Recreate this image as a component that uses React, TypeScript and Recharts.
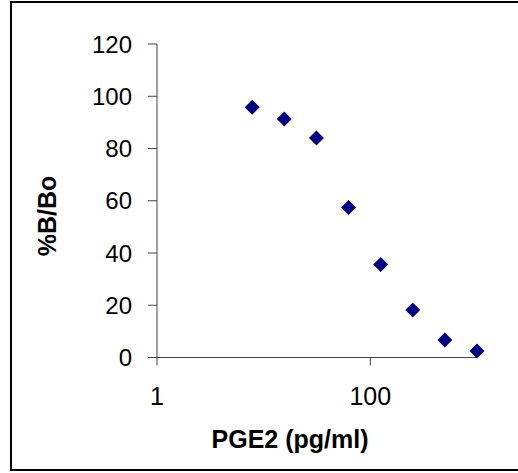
import { ScatterChart, Scatter, XAxis, YAxis } from "recharts";

// PGE2 standard curve
const concentrations = [7.8, 15.6, 31.25, 62.5, 125, 250, 500, 1000];
const percentBBo = [95.8, 91.3, 84.0, 57.4, 35.6, 18.2, 6.7, 2.5];
const xTicks = [1, 100];
const yTicks = [0, 20, 40, 60, 80, 100, 120];

const FONT = '"Liberation Sans", Arial, sans-serif';
const AXIS_COLOR = "#444";
const MARKER = "#000080";

const data = concentrations.map((c, i) => ({ x: c, y: percentBBo[i] }));

function DiamondMarker({ cx, cy }: { cx?: number; cy?: number }) {
  if (cx == null || cy == null) return null;
  const r = 7.5;
  return (
    <polygon
      points={`${cx},${cy - r} ${cx + r},${cy} ${cx},${cy + r} ${cx - r},${cy}`}
      fill={MARKER}
    />
  );
}

function YTitle() {
  return (
    <text
      x={47}
      y={216}
      transform="rotate(-90 47 216)"
      textAnchor="middle"
      dominantBaseline="central"
      fontFamily={FONT}
      fontSize={25}
      fontWeight="bold"
      fill="#000"
    >
      %B/Bo
    </text>
  );
}

export default function App() {
  return (
    <div
      style={{
        position: "absolute",
        left: 0,
        top: 0,
        width: 518,
        height: 473,
        background: "#fff",
        overflow: "hidden",
      }}
    >
      <div
        style={{
          position: "absolute",
          left: 10,
          top: 1,
          width: 530,
          height: 470,
          border: "2px solid #000",
          boxSizing: "border-box",
        }}
      />
      <div style={{ position: "absolute", left: 0, top: 0 }}>
        <ScatterChart
          width={518}
          height={473}
          margin={{ top: 44, right: 41, bottom: 0, left: 0 }}
        >
          <XAxis
            type="number"
            dataKey="x"
            scale="log"
            domain={[1, 1000]}
            ticks={xTicks}
            height={115.5}
            tickSize={8}
            tickMargin={22}
            stroke={AXIS_COLOR}
            tick={{ fill: "#000", fontSize: 25, fontFamily: FONT }}
            label={{
              value: "PGE2 (pg/ml)",
              position: "insideBottom",
              offset: 25,
              dx: -27,
              fill: "#000",
              fontSize: 25,
              fontWeight: "bold",
              fontFamily: FONT,
            }}
          />
          <YAxis
            type="number"
            dataKey="y"
            domain={[0, 120]}
            ticks={yTicks}
            width={157}
            tickSize={9}
            tickMargin={16}
            stroke={AXIS_COLOR}
            tick={{ fill: "#000", fontSize: 24, fontFamily: FONT }}
            label={<YTitle />}
          />
          <Scatter
            data={data}
            shape={<DiamondMarker />}
            isAnimationActive={false}
          />
        </ScatterChart>
      </div>
    </div>
  );
}
